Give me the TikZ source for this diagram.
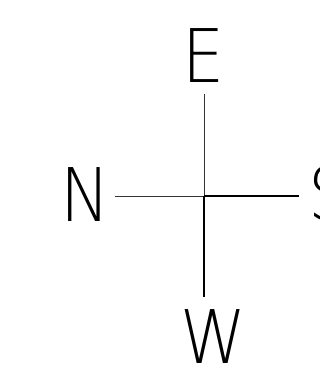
\documentclass[tikz,border=0pt]{standalone}
\usepackage{fontspec}
\newfontfamily\compassfont{DejaVu Sans ExtraLight}
\usetikzlibrary{positioning}

\begin{document}
\begin{tikzpicture}[x=1pt, y=-1pt,
 lbl/.style={inner sep=0pt, anchor=base, text depth=0pt, xscale=0.9,
 font=\compassfont\fontsize{74}{74}\selectfont},
 ln/.style={draw=black!80, line width=0.8pt},
 lnb/.style={draw=black, line width=1.5pt},
]
 \useasboundingbox (0,0) rectangle (320,382);

 \coordinate (c) at (204,196);
 \coordinate (tE) at (204,94);
 \coordinate (tN) at (115,196);
 \coordinate (tS) at (299,196);
 \coordinate (tW) at (204,297);

 \node[lbl] (lE) at (204,83) {E};
 \node[lbl] (lN) at (85,221) {N};
 \node[lbl, anchor=base west] (lS) at (308,220) {S};
 \node[lbl] (lW) at (213,363) {W};

 \draw[ln] (tN) -- (c);
 \draw[ln] (tE) -- (c);
 \draw[lnb] (c) -- (tS);
 \draw[lnb] (c) -- (tW);
\end{tikzpicture}
\end{document}
